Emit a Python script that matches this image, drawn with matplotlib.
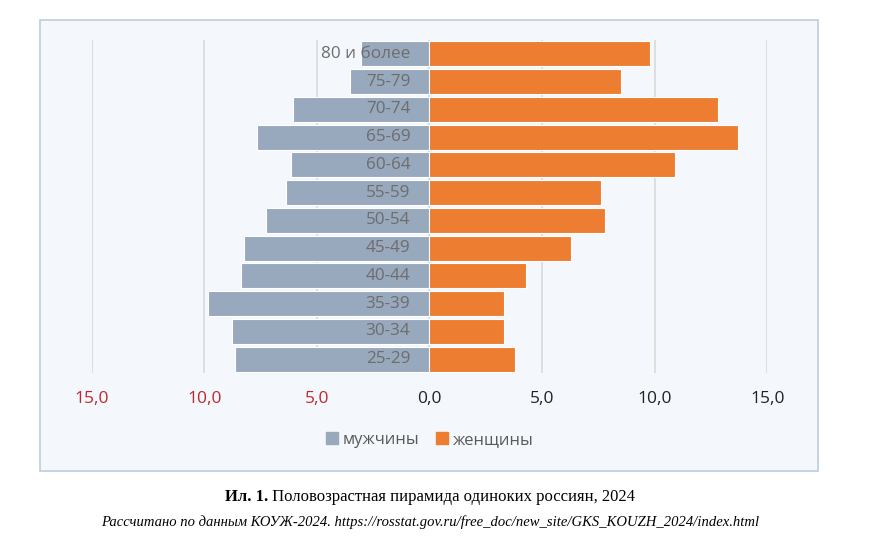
import numpy as np
import matplotlib
matplotlib.use("Agg")
import matplotlib.pyplot as plt
from matplotlib.patches import Rectangle
from matplotlib.ticker import FuncFormatter, MultipleLocator

# Age groups from youngest (bottom) to oldest (top)
ages = ["25-29", "30-34", "35-39", "40-44", "45-49", "50-54",
        "55-59", "60-64", "65-69", "70-74", "75-79", "80 и более"]
men = [8.65, 8.75, 9.85, 8.35, 8.25, 7.25, 6.35, 6.15, 7.65, 6.05, 3.55, 3.05]
women = [3.8, 3.3, 3.3, 4.3, 6.3, 7.8, 7.6, 10.9, 13.7, 12.8, 8.5, 9.8]
legend_labels = ["мужчины", "женщины"]
caption_bold = "Ил. 1."
caption_text = " Половозрастная пирамида одиноких россиян, 2024"
source_text = "Рассчитано по данным КОУЖ-2024. https://rosstat.gov.ru/free_doc/new_site/GKS_KOUZH_2024/index.html"

men_color = "#98a8bd"
women_color = "#ed7d31"
box_color = "#f4f8fc"
label_gray = "#6d6d6d"

W, H = 873, 550
fig = plt.figure(figsize=(W / 100, H / 100), dpi=100)
fig.patch.set_facecolor("white")

# light chart box like the Excel chart area
box = Rectangle((40 / W, 1 - 471 / H), 778 / W, 451.5 / H, transform=fig.transFigure,
                facecolor=box_color, edgecolor="#bccdd9", linewidth=1.2, zorder=-5)
fig.patches.append(box)

ax = fig.add_axes([91.7 / W, 1 - 373 / H, 675.5 / W, 333 / H])
ax.set_facecolor("none")
ax.set_zorder(2)

y = np.arange(len(ages))
ax.barh(y, -np.array(men), height=0.9, color=men_color, edgecolor="white", linewidth=0.8, zorder=2)
ax.barh(y, women, height=0.9, color=women_color, edgecolor="white", linewidth=0.8, zorder=2)

for yi, lab in zip(y, ages):
    ax.text(-0.85, yi, lab, ha="right", va="center", fontsize=12.3,
            family="Open Sans", color=label_gray, zorder=3)

ax.set_xlim(-15, 15)
ax.set_ylim(-0.5, len(ages) - 0.5)
ax.xaxis.set_major_locator(MultipleLocator(5))
ax.xaxis.set_major_formatter(FuncFormatter(lambda v, p: f"{abs(v):.1f}".replace(".", ",")))
ax.grid(axis="x", color="#d9d9d9", linewidth=1.2, zorder=1)
ax.set_axisbelow(True)
ax.set_yticks([])
ax.tick_params(axis="x", length=0, pad=13, labelsize=12.5)
for s in ax.spines.values():
    s.set_visible(False)
for lbl, val in zip(ax.get_xticklabels(), ax.get_xticks()):
    lbl.set_family("Open Sans")
    lbl.set_color("#c0282d" if val < 0 else "#222222")

handles = [Rectangle((0, 0), 1, 1, color=men_color), Rectangle((0, 0), 1, 1, color=women_color)]
fig.legend(handles, legend_labels, loc="center", bbox_to_anchor=(430 / W, 1 - 440 / H),
           ncol=2, frameon=False, handlelength=0.7, handleheight=0.7, handletextpad=0.3,
           columnspacing=1.0, prop={"family": "Open Sans", "size": 12}, labelcolor="#595959")

# caption: bold prefix + regular text, centred together
fig.canvas.draw()
r = fig.canvas.get_renderer()
cy = 1 - 497 / H
t1 = fig.text(0, cy, caption_bold, ha="left", va="center", fontsize=12,
              family="Liberation Serif", weight="bold")
t2 = fig.text(0, cy, caption_text, ha="left", va="center", fontsize=12,
              family="Liberation Serif")
w1 = t1.get_window_extent(r).width / W
w2 = t2.get_window_extent(r).width / W
x0 = 430 / W - (w1 + w2) / 2
t1.set_x(x0)
t2.set_x(x0 + w1)
fig.text(430 / W, 1 - 522 / H, source_text, ha="center", va="center", fontsize=10.5,
         family="Liberation Serif", style="italic")

fig.savefig("out.png", dpi=100, facecolor="white")
